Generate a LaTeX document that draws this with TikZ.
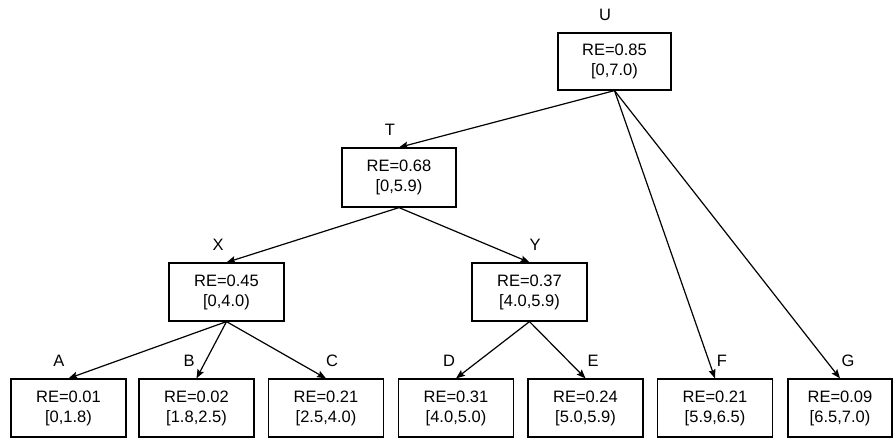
\documentclass[tikz,border=0pt]{standalone}
\usepackage{fontspec}
\setmainfont{Liberation Sans}
\usetikzlibrary{arrows.meta}
\begin{document}
\begin{tikzpicture}[x=1pt,y=-1pt,
  treebox/.style={draw=black, line width=1.2pt, fill=white, align=center,
    inner sep=0pt, minimum height=58pt, minimum width=115pt,
    font=\fontsize{16.5}{20}\selectfont},
  tag/.style={inner sep=0pt, font=\fontsize{16.5}{20}\selectfont},
  link/.style={draw=black, line width=1.2pt,
    -{Stealth[length=9pt,width=7pt,inset=1.5pt]}}]
\useasboundingbox (0,0) rectangle (893,439);

% inner nodes
\node[treebox, minimum width=113pt, minimum height=57pt] (U) at (614.5,61.5) {RE=0.85\\{}[0,7.0)};
\node[treebox, minimum width=114pt, minimum height=59pt] (T) at (399,177.5) {RE=0.68\\{}[0,5.9)};
\node[treebox] (X) at (226.5,292) {RE=0.45\\{}[0,4.0)};
\node[treebox] (Y) at (529.5,292) {RE=0.37\\{}[4.0,5.9)};

% leaves
\node[treebox] (A) at (68.5,408) {RE=0.01\\{}[0,1.8)};
\node[treebox] (B) at (196.5,408) {RE=0.02\\{}[1.8,2.5)};
\node[treebox] (C) at (326,408) {RE=0.21\\{}[2.5,4.0)};
\node[treebox] (D) at (456,408) {RE=0.31\\{}[4.0,5.0)};
\node[treebox] (E) at (585.5,408) {RE=0.24\\{}[5.0,5.9)};
\node[treebox] (F) at (715,408) {RE=0.21\\{}[5.9,6.5)};
\node[treebox, minimum width=104pt] (G) at (840,408) {RE=0.09\\{}[6.5,7.0)};

% node names
\node[tag] (lU) at (605,15) {U};
\node[tag] (lT) at (390,130) {T};
\node[tag] (lX) at (218,245) {X};
\node[tag] (lY) at (535,245) {Y};
\node[tag] (lA) at (59,361) {A};
\node[tag] (lB) at (189,361) {B};
\node[tag] (lC) at (332,361) {C};
\node[tag] (lD) at (449,361) {D};
\node[tag] (lE) at (593,361) {E};
\node[tag] (lF) at (722,361) {F};
\node[tag] (lG) at (848,361) {G};

% edges
\draw[link] (U.south) -- (T.north);
\draw[link] (U.south) -- (F.north);
\draw[link] (U.south) -- (G.north);
\draw[link] (T.south) -- (X.north);
\draw[link] (T.south) -- (Y.north);
\draw[link] (X.south) -- (A.north);
\draw[link] (X.south) -- (B.north);
\draw[link] (X.south) -- (C.north);
\draw[link] (Y.south) -- (D.north);
\draw[link] (Y.south) -- (E.north);
\end{tikzpicture}
\end{document}
